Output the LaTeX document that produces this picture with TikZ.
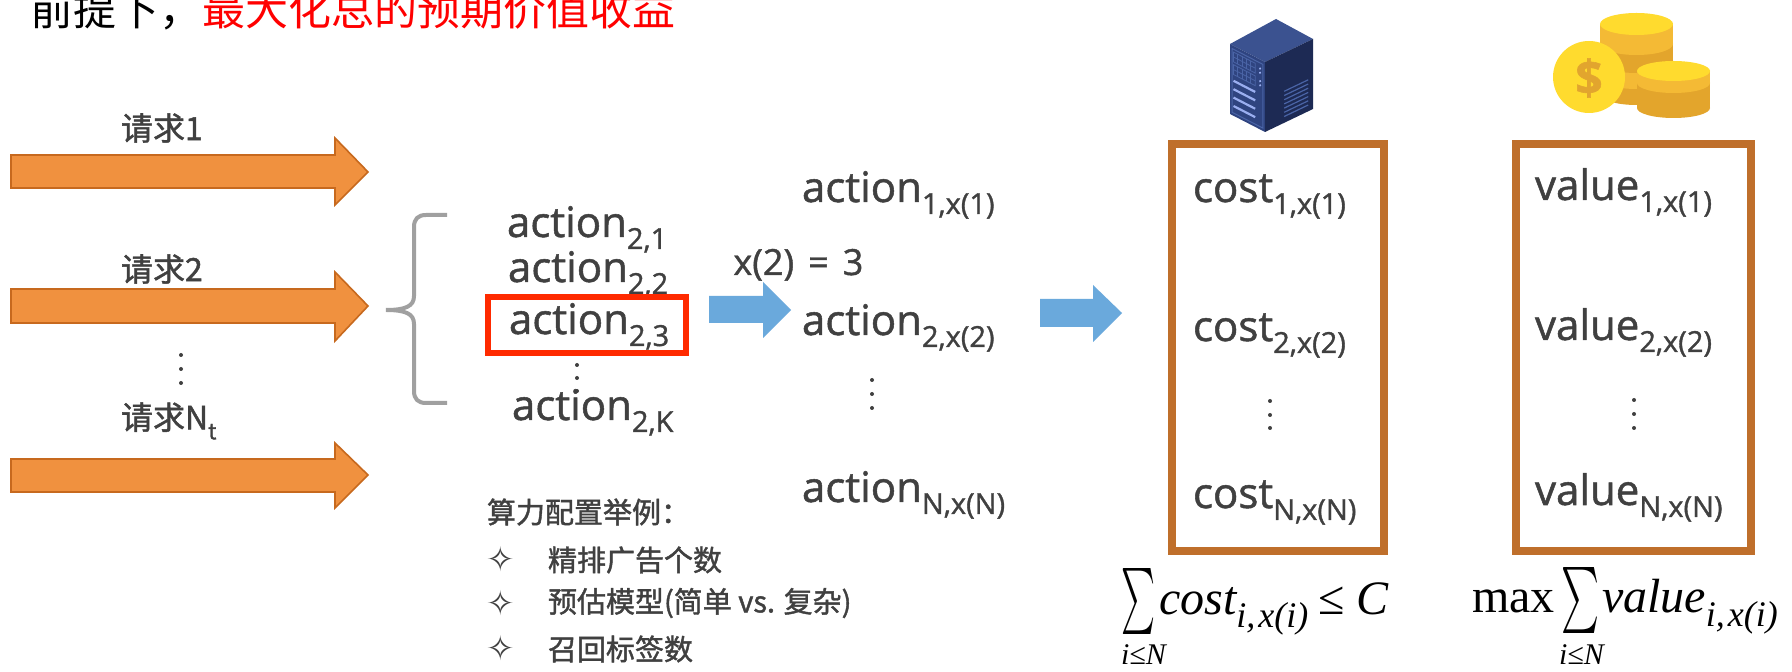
\documentclass[tikz,border=0pt]{standalone}
\usepackage{fontspec}
\usepackage{graphicx}
\setmainfont{Open Sans}[FakeBold=1.2]
\newfontfamily\cjk{Noto Sans CJK SC}[FakeBold=1.4]
\newfontfamily\cjktitle{Noto Sans CJK SC}
\newfontfamily\tms{Liberation Serif}
\newfontfamily\dvs{DejaVu Sans}

\definecolor{textgray}{HTML}{404040}
\definecolor{titlered}{HTML}{FF0000}
\definecolor{arroworange}{HTML}{F0913F}
\definecolor{arrowedge}{HTML}{C7691E}
\definecolor{arrowblue}{HTML}{6AA9DC}
\definecolor{boxbrown}{HTML}{BF6F2B}
\definecolor{pickred}{HTML}{FF2A00}
\definecolor{bracegray}{HTML}{A0A0A0}
\definecolor{srvtop}{HTML}{3B5290}
\definecolor{srvfront}{HTML}{2F4480}
\definecolor{srvside}{HTML}{1D2A54}
\definecolor{srvline}{HTML}{4A64A6}
\definecolor{srvstripe}{HTML}{9AAEF0}
\definecolor{coinface}{HTML}{FFDB2E}
\definecolor{coinlight}{HTML}{F4BA35}
\definecolor{coindark}{HTML}{E3A52C}
\definecolor{coindollar}{HTML}{E2A52E}

% subscripts for the sans labels and the serif formulas
\newcommand\actsub[1]{\raisebox{-6pt}{\fontsize{14.5}{14.5}\selectfont #1}}
\newcommand\fsub[1]{\raisebox{-6.5pt}{\fontsize{18}{18}\selectfont #1}}

\begin{document}
\begin{tikzpicture}[x=0.5pt,y=-0.5pt,
  lbl/.style={inner sep=0pt,outer sep=0pt,text=textgray,anchor=base west,
    font=\fontsize{21}{21}\selectfont},
  reqlbl/.style={inner sep=0pt,outer sep=0pt,text=textgray,anchor=west,
    font=\cjk\fontsize{16}{16}\selectfont},
  listlbl/.style={inner sep=0pt,outer sep=0pt,text=textgray,anchor=west,
    font=\cjk\fontsize{14.5}{14.5}\selectfont},
  bulletlbl/.style={inner sep=0pt,outer sep=0pt,text=textgray,
    font=\dvs\fontsize{17}{17}\selectfont},
  formula/.style={inner sep=0pt,outer sep=0pt,text=black,anchor=base west,
    font=\tms\fontsize{24}{24}\selectfont},
  limitlbl/.style={inner sep=0pt,outer sep=0pt,text=black,anchor=base west,
    font=\tms\itshape\fontsize{15}{15}\selectfont},
  reqarrow/.style={fill=arroworange,draw=arrowedge,line width=0.8pt,line join=miter},
  flowarrow/.style={fill=arrowblue},
  resultbox/.style={draw=boxbrown,line width=4pt},
  dotstyle/.style={fill=textgray}
]
\useasboundingbox (0,0) rectangle (1792,672);
\fill[white] (0,0) rectangle (1792,672);

% heading line
\node[inner sep=0pt,anchor=base west,font=\cjktitle\fontsize{21.5}{21.5}\selectfont,text=black]
  (title) at (30,26) {前提下，\textcolor{titlered}{最大化总的预期价值收益}};

% incoming requests
\filldraw[reqarrow] (11,155) -- (335,155) -- (335,138) -- (368,172) -- (335,205) -- (335,188) -- (11,188) -- cycle;
\filldraw[reqarrow] (11,289) -- (335,289) -- (335,272) -- (368,306) -- (335,341) -- (335,323) -- (11,323) -- cycle;
\filldraw[reqarrow] (11,459) -- (335,459) -- (335,443) -- (368,475) -- (335,508) -- (335,492) -- (11,492) -- cycle;
\node[reqlbl] (req1) at (121,128) {请求1};
\node[reqlbl] (req2) at (121,269) {请求2};
\node[reqlbl] (reqn) at (121,421) {请求N\raisebox{-5pt}{\fontsize{11}{11}\selectfont t}};
\foreach \yy in {355,369,383} \fill[dotstyle] (181,\yy) circle (2);

% candidate actions of request 2
\draw[bracegray,line width=2pt] (447,215) -- (426,215) .. controls (418,215) and (414,219) .. (414,227)
  -- (414,296) .. controls (414,306) and (406,310) .. (386,310)
  .. controls (406,310) and (414,314) .. (414,324) -- (414,391)
  .. controls (414,399) and (418,403) .. (426,403) -- (447,403);
\node[lbl] (a21) at (507,237) {action\actsub{2,1}};
\node[lbl] (a22) at (508,282) {action\actsub{2,2}};
\node[lbl] (a23) at (509,334) {action\actsub{2,3}};
\foreach \yy in {365,378,391} \fill[dotstyle] (577,\yy) circle (2);
\node[lbl] (a2k) at (512,420) {action\actsub{2,K}};
\draw[pickred,line width=3pt] (488,297) rectangle (686,353);

% chosen action per request
\fill[flowarrow] (709,296) -- (763,296) -- (763,282) -- (791,310) -- (763,338) -- (763,323) -- (709,323) -- cycle;
\node[inner sep=0pt,anchor=base west,text=textgray,font=\fontsize{18}{18}\selectfont]
  (pick) at (733,275) {x(2)\hspace{7pt}=\hspace{7pt}3};
\node[lbl] (m1) at (802,202) {action\actsub{1,x(1)}};
\node[lbl] (m2) at (802,335) {action\actsub{2,x(2)}};
\foreach \yy in {380,394,408} \fill[dotstyle] (872,\yy) circle (2);
\node[lbl] (mn) at (802,502) {action\actsub{N,x(N)}};
\fill[flowarrow] (1040,299) -- (1093,299) -- (1093,285) -- (1122,313) -- (1093,342) -- (1093,327) -- (1040,327) -- cycle;

% compute configuration examples
\node[listlbl] (cfg) at (487,512) {算力配置举例：};
\node[bulletlbl] (b1) at (501,559) {✧};
\node[bulletlbl] (b2) at (501,603) {✧};
\node[bulletlbl] (b3) at (501,648) {✧};
\node[listlbl] (c1) at (548,560) {精排广告个数};
\node[listlbl] (c2) at (548,603) {预估模型(简单 vs. 复杂)};
\node[listlbl] (c3) at (548,649) {召回标签数};

% cost and value columns
\draw[resultbox] (1172,144) rectangle (1384,551);
\draw[resultbox] (1516,144) rectangle (1751,551);
\node[lbl] (cost1) at (1193,202) {cost\actsub{1,x(1)}};
\node[lbl] (cost2) at (1193,341) {cost\actsub{2,x(2)}};
\foreach \yy in {401,415,428} \fill[dotstyle] (1270,\yy) circle (2);
\node[lbl] (costn) at (1193,508) {cost\actsub{N,x(N)}};
\node[lbl] (val1) at (1535,200) {value\actsub{1,x(1)}};
\node[lbl] (val2) at (1535,340) {value\actsub{2,x(2)}};
\foreach \yy in {400,414,428} \fill[dotstyle] (1634,\yy) circle (2);
\node[lbl] (valn) at (1535,505) {value\actsub{N,x(N)}};

% server rack (isometric)
\fill[srvtop] (1230,44) -- (1276,19) -- (1313,39) -- (1265,62) -- cycle;
\fill[srvfront] (1230,44) -- (1265,62) -- (1265,132) -- (1230,114) -- cycle;
\fill[srvside] (1265,62) -- (1313,39) -- (1313,109) -- (1265,132) -- cycle;
\begin{scope}[shift={(1230,44)},x={(17.5pt,-9pt)},y={(0pt,-35pt)}]
  \draw[srvline,line width=0.5pt] (0.06,0.05) -- (0.94,0.05) -- (0.94,0.96) -- (0.06,0.96) -- cycle;
  \foreach \vv in {0.09,0.27} {
    \draw[srvline,line width=0.4pt] (0.1,\vv) -- (0.72,\vv) -- (0.72,\vv+0.14) -- (0.1,\vv+0.14) -- cycle;
    \foreach \uu in {0.22,0.34,0.46,0.58} \draw[srvline,line width=0.4pt] (\uu,\vv) -- (\uu,\vv+0.14);
    \draw[srvline,line width=0.4pt] (0.1,\vv+0.07) -- (0.72,\vv+0.07);
    \draw[srvstripe,line width=1.2pt,line cap=round] (0.86,\vv+0.04) -- (0.861,\vv+0.04);
    \draw[srvstripe,line width=1.2pt,line cap=round] (0.86,\vv+0.10) -- (0.861,\vv+0.10);
  }
  \foreach \vv in {0.5,0.62,0.74,0.86}
    \draw[srvstripe,line width=1.1pt] (0.1,\vv) -- (0.72,\vv);
\end{scope}
\begin{scope}[shift={(1265,62)},x={(24pt,11.5pt)},y={(0pt,-35pt)}]
  \foreach \vv in {0.55,0.61,...,0.92}
    \draw[srvline,line width=0.6pt] (0.4,\vv) -- (0.9,\vv);
\end{scope}

% stack of coins
\fill[coindark] (1600,78) rectangle (1673,94);
\fill[coindark] (1636.5,94) ellipse[x radius=36.5,y radius=11];
\fill[coinlight] (1600,62) rectangle (1673,78);
\fill[coinlight] (1636.5,78) ellipse[x radius=36.5,y radius=11];
\fill[coindark] (1600,44) rectangle (1673,62);
\fill[coindark] (1636.5,62) ellipse[x radius=36.5,y radius=11];
\fill[coinlight] (1600,24) rectangle (1673,44);
\fill[coinlight] (1636.5,44) ellipse[x radius=36.5,y radius=11];
\fill[coinface] (1636.5,24) ellipse[x radius=36.5,y radius=11];
\fill[coinface] (1589,77) ellipse[x radius=36,y radius=36];
\node[inner sep=0pt,text=coindollar,font=\bfseries\fontsize{24}{24}\selectfont] (dollar) at (1589,78) {\$};
\fill[coindark] (1637,83) rectangle (1710,108);
\fill[coindark] (1673.5,108) ellipse[x radius=36.5,y radius=10];
\fill[coinlight] (1637,71) rectangle (1710,83);
\fill[coinlight] (1673.5,83) ellipse[x radius=36.5,y radius=10];
\fill[coinface] (1673.5,71) ellipse[x radius=36.5,y radius=10];

% budget constraint
\node[inner sep=0pt,anchor=north west] (sum1) at (1121,568) {\resizebox*{17pt}{33pt}{$\sum$}};
\node[formula] (costsum) at (1159,615) {\itshape cost\fsub{i,\kern1.5pt x(i)}};
\node[formula] (leq) at ([xshift=5pt]costsum.base east) {≤ \itshape C};
\node[limitlbl] (lim1) at (1121,664) {i≤N};

% objective
\node[formula] (maxop) at (1472,613) {max};
\node[inner sep=0pt,anchor=north west] (sum2) at (1561,567) {\resizebox*{19pt}{33pt}{$\sum$}};
\node[formula] (valsum) at (1602,613) {\itshape value\fsub{i,\kern1.5pt x(i)}};
\node[limitlbl] (lim2) at (1559,664) {i≤N};
\end{tikzpicture}
\end{document}
